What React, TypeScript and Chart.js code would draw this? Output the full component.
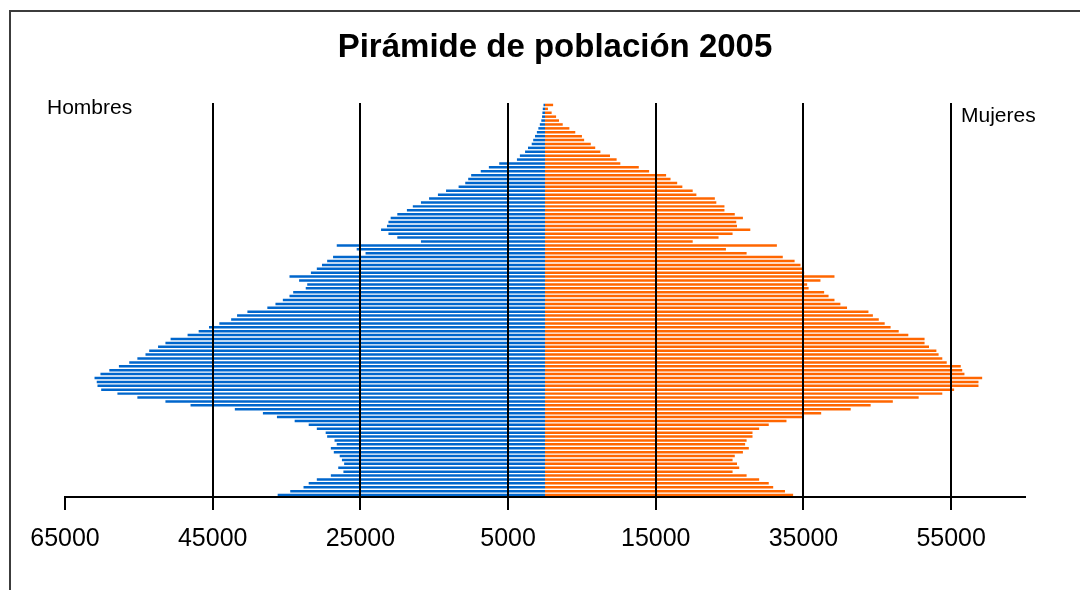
import React, { useEffect, useRef } from 'react';
import { Chart, registerables } from 'chart.js';

Chart.register(...registerables);

const TITLE = 'Pirámide de población 2005';
const LABEL_MEN = 'Hombres';
const LABEL_WOMEN = 'Mujeres';

// Ages 0 .. 100 (bottom to top)
const ages = [
  '0', '1', '2', '3', '4', '5', '6', '7', '8', '9',
  '10', '11', '12', '13', '14', '15', '16', '17', '18', '19',
  '20', '21', '22', '23', '24', '25', '26', '27', '28', '29',
  '30', '31', '32', '33', '34', '35', '36', '37', '38', '39',
  '40', '41', '42', '43', '44', '45', '46', '47', '48', '49',
  '50', '51', '52', '53', '54', '55', '56', '57', '58', '59',
  '60', '61', '62', '63', '64', '65', '66', '67', '68', '69',
  '70', '71', '72', '73', '74', '75', '76', '77', '78', '79',
  '80', '81', '82', '83', '84', '85', '86', '87', '88', '89',
  '90', '91', '92', '93', '94', '95', '96', '97', '98', '99',
  '100',
];

const hombres = [
  36200, 34500, 32700, 32000, 30900, 29000, 27300, 28000, 27200, 27500,
  27800, 28600, 29000, 28200, 28500, 29500, 29700, 30900, 32000, 33900,
  36300, 38200, 42000, 48000, 51400, 55200, 57900, 60100, 60600, 60700,
  61000, 60200, 59000, 57700, 56300, 55200, 54100, 53600, 52400, 51400,
  50700, 48400, 46900, 45500, 44100, 42500, 41700, 40300, 37600, 36500,
  35500, 34600, 34100, 32400, 32200, 33300, 34600, 31700, 30900, 30200,
  29500, 28700, 24300, 25500, 28200, 16800, 20000, 21200, 22200, 21400,
  21200, 20900, 20000, 18700, 17900, 16800, 15700, 14500, 13400, 11700,
  10800, 10400, 10000, 8700, 7600, 6200, 3800, 3400, 2700, 2300,
  1800, 1600, 1350, 1100, 900, 700, 500, 400, 350, 300,
  200,
];

const mujeres = [
  33600, 32500, 30900, 30300, 29000, 27300, 25400, 26300, 26000, 25400,
  25700, 26800, 27600, 27100, 27300, 28100, 28100, 29000, 30300, 32700,
  34900, 37400, 41400, 44100, 47100, 50600, 53800, 55400, 58700, 58700,
  59200, 56800, 56500, 56300, 54400, 53800, 53300, 53000, 52000, 51400,
  51400, 49200, 47900, 46800, 46000, 45200, 44400, 43800, 40900, 40000,
  39200, 38400, 37800, 35700, 35500, 37300, 39200, 35100, 34800, 34600,
  33800, 32200, 27300, 24500, 31400, 20000, 23500, 25400, 27800, 26000,
  25900, 26800, 25700, 24300, 24300, 23200, 23000, 20500, 20000, 18600,
  17900, 17000, 16400, 14100, 12700, 10200, 9700, 8800, 7500, 6800,
  6200, 5300, 5000, 4100, 3300, 2400, 1900, 1500, 900, 400,
  1100,
];

const tickValues = [-65000, -45000, -25000, -5000, 15000, 35000, 55000];
const X_MIN = -65000;
const X_MAX = 65000;

const FONT = '"Liberation Sans", Arial, Helvetica, sans-serif';

const overlayPlugin = {
  id: 'overlayTexts',
  afterDraw(chart: any) {
    const ctx = chart.ctx;
    ctx.save();
    // frame
    ctx.strokeStyle = '#3c3c3c';
    ctx.lineWidth = 2;
    ctx.beginPath();
    ctx.moveTo(10, 590);
    ctx.lineTo(10, 11);
    ctx.lineTo(1080, 11);
    ctx.stroke();
    // title
    ctx.fillStyle = '#000';
    ctx.textBaseline = 'middle';
    ctx.textAlign = 'center';
    ctx.font = `bold 33px ${FONT}`;
    ctx.fillText(TITLE, 555, 48);
    // side labels
    ctx.textAlign = 'left';
    ctx.font = `21px ${FONT}`;
    ctx.fillText(LABEL_MEN, 47, 108);
    ctx.fillText(LABEL_WOMEN, 961, 116);
    ctx.restore();
  },
};

export default function App() {
  const canvasRef = useRef<HTMLCanvasElement | null>(null);

  useEffect(() => {
    if (!canvasRef.current) return;
    const chart = new Chart(canvasRef.current, {
      type: 'bar',
      data: {
        labels: ages,
        datasets: [
          {
            label: LABEL_MEN,
            data: hombres.map((v) => -v),
            backgroundColor: '#0066cc',
            borderWidth: 0,
            barPercentage: 0.64,
            categoryPercentage: 1,
          },
          {
            label: LABEL_WOMEN,
            data: mujeres,
            backgroundColor: '#ff6600',
            borderWidth: 0,
            barPercentage: 0.64,
            categoryPercentage: 1,
          },
        ],
      },
      options: {
        indexAxis: 'y',
        responsive: false,
        animation: false,
        devicePixelRatio: 1,
        layout: { padding: { left: 65, right: 55, top: 103, bottom: 22 } },
        plugins: {
          legend: { display: false },
          tooltip: { enabled: false },
          title: { display: false },
        },
        scales: {
          x: {
            type: 'linear',
            position: 'bottom',
            min: X_MIN,
            max: X_MAX,
            stacked: true,
            afterBuildTicks: (scale: any) => {
              scale.ticks = tickValues.map((v) => ({ value: v }));
            },
            ticks: {
              autoSkip: false,
              maxRotation: 0,
              color: '#000',
              padding: 14,
              font: { family: FONT, size: 25 },
              callback: (v: any) => String(Math.abs(Number(v))),
            },
            grid: {
              z: 1,
              color: (c: any) => (c.tick && c.tick.value === X_MIN ? 'rgba(0,0,0,0)' : '#000'),
              lineWidth: 2,
              tickColor: '#000',
              tickWidth: 2,
              tickLength: 13,
            },
            border: { display: true, color: '#000', width: 2, z: 1 },
          },
          y: {
            type: 'category',
            display: false,
            stacked: true,
            reverse: true,
            grid: { display: false },
          },
        },
      },
      plugins: [overlayPlugin],
    });
    return () => chart.destroy();
  }, []);

  return (
    <div style={{ position: 'absolute', left: 0, top: 0, width: 1080, height: 590, background: '#fff' }}>
      <canvas ref={canvasRef} width={1080} height={590} />
    </div>
  );
}
